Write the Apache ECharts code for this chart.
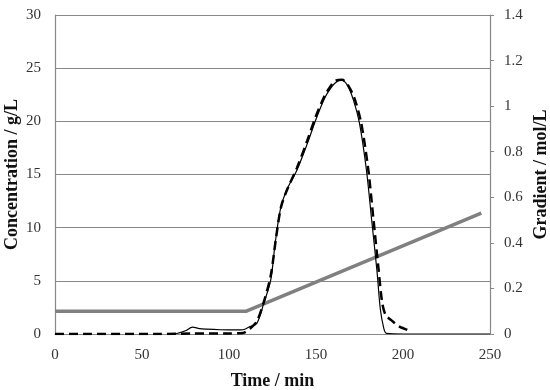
<!DOCTYPE html>
<html>
<head>
<meta charset="utf-8">
<script src="https://cdn.jsdelivr.net/npm/echarts@6/dist/echarts.min.js"></script>
<style>html,body{margin:0;padding:0;background:#fff;}#c{width:550px;height:390px;}</style>
</head>
<body>
<div id="c"></div>
<script>
// Time axis ticks (min)
const xTicks = [0, 50, 100, 150, 200, 250];
// Solid concentration curve
const solidTime = [65, 70, 75, 79, 83, 87, 95, 105, 108, 112, 116, 120, 124, 126.5, 129.5, 133, 139, 145, 150, 155, 158, 161, 164.5, 168, 171.5, 175, 179, 182, 185, 187, 189, 190.5, 200, 250];
const solidConc = [0, 0.05, 0.3, 0.65, 0.5, 0.45, 0.4, 0.38, 0.4, 0.7, 1.0, 2.9, 5.1, 8.5, 11.7, 13.5, 15.4, 17.9, 20.2, 22.2, 23.0, 23.6, 23.9, 23.4, 22.0, 19.8, 15.4, 10.7, 6.0, 2.3, 0.5, 0.05, 0, 0];
// Dashed concentration curve
const dashTime = [0, 20, 40, 60, 80, 100, 108, 112, 116, 120, 124, 127, 130, 134, 139, 145, 150, 155, 158, 161, 165, 168, 172, 176, 180, 183, 186, 188, 190, 194, 198, 204];
const dashConc = [0, 0, 0, 0, 0.05, 0.05, 0.1, 0.5, 1.2, 3.0, 5.5, 9, 12, 13.8, 15.6, 18.2, 20.5, 22.4, 23.2, 23.8, 23.9, 23.5, 22.2, 19.8, 15.5, 10.8, 6, 3, 1.8, 1.2, 0.7, 0.3];
// Gradient (mol/L)
const gradTime = [0, 110, 245];
const gradVal = [0.1, 0.1, 0.53];

const zip = (a, b) => a.map((v, i) => [v, b[i]]);
const font = '"Liberation Serif", "DejaVu Serif", serif';
const chart = echarts.init(document.getElementById('c'));
chart.setOption({
  animation: false,
  backgroundColor: '#fff',
  grid: { left: 55, right: 60, top: 15, bottom: 56, containLabel: false, outerBoundsMode: 'none' },
  xAxis: {
    type: 'value', min: 0, max: 250, interval: 50,
    name: 'Time / min', nameLocation: 'middle', nameGap: 38, nameMoveOverlap: false,
    nameTextStyle: { fontFamily: font, fontWeight: 'bold', fontSize: 18, color: '#111' },
    axisLine: { show: true, lineStyle: { color: '#888', width: 1.2 } },
    axisTick: { show: false },
    splitLine: { show: false },
    axisLabel: { fontFamily: font, fontSize: 15, color: '#333', margin: 14 }
  },
  yAxis: [{
    type: 'value', min: 0, max: 30, interval: 5,
    name: 'Concentration / g/L', nameLocation: 'middle', nameGap: 34, nameRotate: 90, nameMoveOverlap: false,
    nameTextStyle: { fontFamily: font, fontWeight: 'bold', fontSize: 18, color: '#111' },
    axisLine: { show: true, lineStyle: { color: '#888', width: 1.2 } },
    axisTick: { show: false },
    splitLine: { show: true, lineStyle: { color: '#888', width: 1.2 } },
    axisLabel: { fontFamily: font, fontSize: 15, color: '#333', margin: 14 }
  }, {
    type: 'value', min: 0, max: 1.4, interval: 0.2, position: 'right',
    name: 'Gradient / mol/L', nameLocation: 'middle', nameGap: 42, nameRotate: 90, nameMoveOverlap: false,
    nameTextStyle: { fontFamily: font, fontWeight: 'bold', fontSize: 18, color: '#111' },
    axisLine: { show: true, lineStyle: { color: '#888', width: 1.2 } },
    axisTick: { show: true, inside: false, length: 4, lineStyle: { color: '#888' } },
    splitLine: { show: false },
    axisLabel: { fontFamily: font, fontSize: 15, color: '#333', margin: 14 }
  }],
  series: [{
    type: 'line', yAxisIndex: 1, data: zip(gradTime, gradVal), symbol: 'none', z: 1,
    lineStyle: { color: '#808080', width: 3.5 }
  }, {
    type: 'line', yAxisIndex: 0, data: zip(dashTime, dashConc), symbol: 'none', smooth: 0.3, z: 2,
    lineStyle: { color: '#000', width: 2.5, type: [9, 5] }
  }, {
    type: 'line', yAxisIndex: 0, data: zip(solidTime, solidConc), symbol: 'none', smooth: 0.3, z: 3,
    lineStyle: { color: '#000', width: 1.2 }
  }]
});
</script>
</body>
</html>
